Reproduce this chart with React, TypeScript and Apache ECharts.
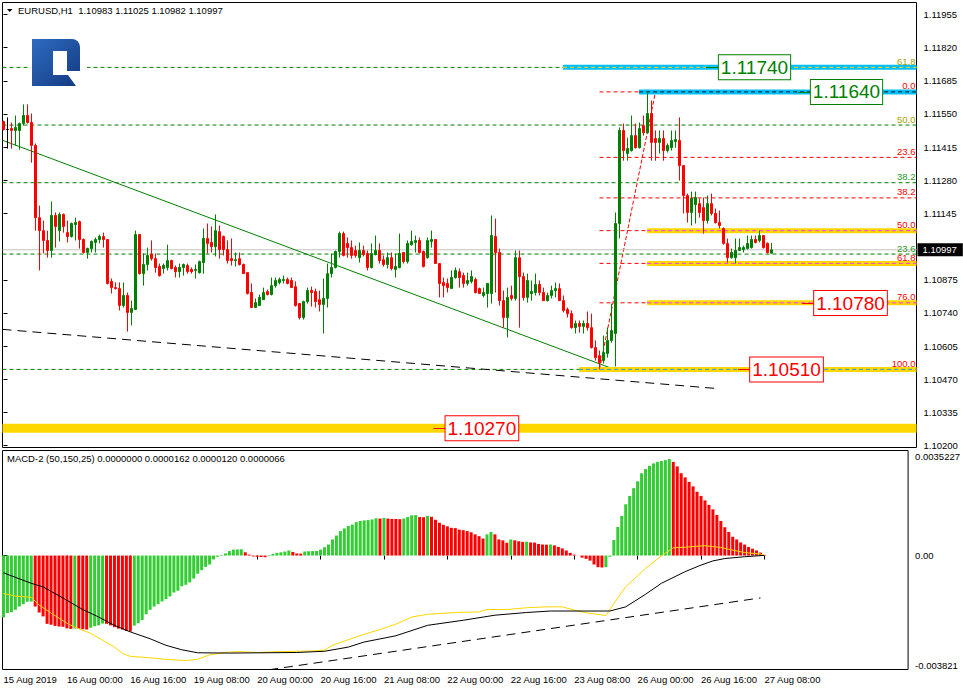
import React, { useEffect, useRef } from "react";
import * as echarts from "echarts";

const FONT = '"Liberation Sans", Arial, Helvetica, sans-serif';

// ---------------- data ----------------
const symbolTitle = "EURUSD,H1";
const lastQuote = [1.10983, 1.11025, 1.10982, 1.10997];
const macdTitle = "MACD-2 (50,150,25)";
const macdBufferTexts = ["0.0000000", "0.0000162", "0.0000120", "0.0000066"];

const opens = [
  1.11519,1.11487,1.11491,1.11483,1.11483,1.11511,1.11544,1.11515,1.11422,1.11128,
  1.11075,1.11035,1.10994,1.11137,1.11075,1.11141,1.11067,1.11051,1.11100,1.11112,
  1.11039,1.10986,1.11002,1.11027,1.11039,1.11051,1.11039,1.10868,1.10843,1.10839,
  1.10770,1.10811,1.10742,1.10754,1.11059,1.10900,1.10937,1.10978,1.10961,1.10929,
  1.10921,1.10925,1.10953,1.10925,1.10908,1.10925,1.10933,1.10917,1.10913,1.10904,
  1.10945,1.11043,1.11027,1.11010,1.11071,1.11051,1.10998,1.10961,1.10953,1.10961,
  1.10937,1.10904,1.10823,1.10762,1.10770,1.10794,1.10827,1.10815,1.10851,1.10864,
  1.10872,1.10876,1.10872,1.10847,1.10778,1.10721,1.10786,1.10831,1.10827,1.10794,
  1.10774,1.10799,1.10900,1.10925,1.10990,1.11063,1.11023,1.11006,1.10994,1.10965,
  1.10994,1.10982,1.10925,1.10978,1.10994,1.10957,1.10937,1.10965,1.10917,1.10925,
  1.10986,1.10949,1.11018,1.11027,1.11035,1.10990,1.10965,1.11031,1.11039,1.10941,
  1.10864,1.10860,1.10839,1.10884,1.10908,1.10892,1.10860,1.10868,1.10876,1.10839,
  1.10811,1.10819,1.10819,1.11051,1.10986,1.10790,1.10721,1.10811,1.10799,1.10965,
  1.10888,1.10803,1.10819,1.10823,1.10856,1.10823,1.10790,1.10811,1.10831,1.10839,
  1.10790,1.10754,1.10737,1.10680,1.10697,1.10685,1.10697,1.10680,1.10599,1.10566,
  1.10546,1.10575,1.10628,1.10656,1.11104,1.11483,1.11389,1.11401,1.11462,1.11413,
  1.11503,1.11474,1.11552,1.11450,1.11434,1.11450,1.11401,1.11413,1.11438,1.11442,
  1.11340,1.11218,1.11149,1.11181,1.11185,1.11169,1.11116,1.11185,1.11145,1.11108,
  1.11084,1.11023,1.10965,1.10965,1.10994,1.10998,1.11002,1.11006,1.11039,1.11035,
  1.11055,1.11023,1.10983,
];
const highs = [
  1.11523,1.11536,1.11515,1.11544,1.11515,1.11589,1.11589,1.11552,1.11430,1.11177,
  1.11116,1.11075,1.11194,1.11149,1.11149,1.11145,1.11116,1.11108,1.11128,1.11116,
  1.11043,1.11006,1.11035,1.11047,1.11059,1.11067,1.11039,1.10880,1.10864,1.10864,
  1.10864,1.10823,1.10790,1.11075,1.11059,1.10982,1.11006,1.11035,1.10982,1.10941,
  1.10941,1.11018,1.10957,1.10933,1.10941,1.10941,1.10941,1.10925,1.10937,1.10953,
  1.11084,1.11104,1.11092,1.11141,1.11096,1.11055,1.11035,1.11043,1.10986,1.10986,
  1.10941,1.10904,1.10860,1.10799,1.10815,1.10843,1.10835,1.10884,1.10884,1.10884,
  1.10892,1.10884,1.10884,1.10868,1.10778,1.10790,1.10843,1.10847,1.10839,1.10831,
  1.10880,1.10941,1.10982,1.10994,1.11071,1.11071,1.11047,1.11035,1.11014,1.11027,
  1.11014,1.10994,1.11023,1.11055,1.11023,1.10974,1.10986,1.10986,1.10982,1.11063,
  1.10986,1.11035,1.11075,1.11055,1.11047,1.10994,1.11047,1.11075,1.11039,1.10941,
  1.10884,1.10880,1.10913,1.10925,1.10921,1.10904,1.10904,1.10913,1.10884,1.10843,
  1.10843,1.10860,1.11137,1.11124,1.11002,1.10831,1.10843,1.10851,1.10994,1.10994,
  1.10904,1.10900,1.10872,1.10900,1.10872,1.10843,1.10823,1.10851,1.10864,1.10860,
  1.10811,1.10762,1.10750,1.10709,1.10709,1.10709,1.10746,1.10737,1.10628,1.10587,
  1.10648,1.10680,1.10778,1.11149,1.11495,1.11511,1.11454,1.11544,1.11511,1.11515,
  1.11544,1.11640,1.11605,1.11483,1.11483,1.11483,1.11430,1.11483,1.11483,1.11536,
  1.11340,1.11226,1.11234,1.11234,1.11206,1.11210,1.11218,1.11226,1.11165,1.11157,
  1.11088,1.11043,1.11002,1.11043,1.11043,1.11014,1.11055,1.11055,1.11055,1.11075,
  1.11055,1.11027,1.11025,
];
const lows = [
  1.11483,1.11409,1.11409,1.11422,1.11405,1.11503,1.11511,1.11352,1.11075,1.10913,
  1.10982,1.10965,1.10965,1.11006,1.11031,1.11067,1.11027,1.11047,1.11035,1.11002,
  1.10982,1.10961,1.10986,1.10986,1.11023,1.11006,1.10856,1.10819,1.10835,1.10750,
  1.10762,1.10664,1.10689,1.10754,1.10896,1.10851,1.10913,1.10953,1.10904,1.10888,
  1.10900,1.10913,1.10917,1.10884,1.10884,1.10892,1.10900,1.10900,1.10880,1.10900,
  1.10900,1.10982,1.10986,1.10970,1.10961,1.10974,1.10941,1.10933,1.10929,1.10933,
  1.10900,1.10815,1.10762,1.10762,1.10770,1.10794,1.10811,1.10811,1.10843,1.10856,
  1.10860,1.10856,1.10843,1.10766,1.10713,1.10713,1.10778,1.10766,1.10762,1.10746,
  1.10656,1.10762,1.10884,1.10921,1.10965,1.10970,1.10965,1.10961,1.10965,1.10945,
  1.10970,1.10913,1.10921,1.10974,1.10941,1.10929,1.10921,1.10913,1.10884,1.10921,
  1.10941,1.10941,1.11014,1.10986,1.10982,1.10925,1.10961,1.11006,1.10941,1.10803,
  1.10803,1.10823,1.10839,1.10880,1.10843,1.10843,1.10851,1.10860,1.10819,1.10819,
  1.10803,1.10762,1.10778,1.10823,1.10770,1.10680,1.10640,1.10790,1.10790,1.10680,
  1.10790,1.10782,1.10790,1.10811,1.10811,1.10790,1.10786,1.10799,1.10803,1.10790,
  1.10742,1.10721,1.10676,1.10656,1.10660,1.10656,1.10668,1.10595,1.10546,1.10510,
  1.10534,1.10558,1.10619,1.10522,1.11043,1.11360,1.11360,1.11397,1.11409,1.11409,
  1.11462,1.11470,1.11360,1.11360,1.11389,1.11360,1.11393,1.11401,1.11413,1.11279,
  1.11145,1.11108,1.11096,1.11104,1.11128,1.11063,1.11104,1.11137,1.11104,1.11084,
  1.11018,1.10945,1.10961,1.10941,1.10994,1.10986,1.10998,1.11002,1.11023,1.11027,
  1.11002,1.10982,1.10982,
];
const closes = [
  1.11487,1.11487,1.11483,1.11495,1.11511,1.11544,1.11515,1.11422,1.11128,1.11075,
  1.11035,1.10994,1.11137,1.11092,1.11141,1.11092,1.11051,1.11104,1.11108,1.11039,
  1.10986,1.11002,1.11031,1.11039,1.11051,1.11039,1.10860,1.10843,1.10839,1.10770,
  1.10811,1.10742,1.10758,1.11059,1.10900,1.10937,1.10974,1.10961,1.10925,1.10892,
  1.10933,1.10953,1.10921,1.10908,1.10925,1.10937,1.10908,1.10908,1.10917,1.10949,
  1.11043,1.11023,1.11010,1.11075,1.10998,1.10998,1.10953,1.10953,1.10957,1.10937,
  1.10900,1.10819,1.10762,1.10782,1.10803,1.10823,1.10815,1.10851,1.10872,1.10876,
  1.10876,1.10860,1.10843,1.10770,1.10721,1.10786,1.10831,1.10823,1.10786,1.10774,
  1.10799,1.10900,1.10925,1.10990,1.11063,1.10974,1.11006,1.10974,1.10974,1.10994,
  1.10978,1.10925,1.10982,1.10994,1.10953,1.10937,1.10965,1.10921,1.10929,1.10982,
  1.10949,1.11023,1.11031,1.11035,1.10986,1.10929,1.11035,1.11039,1.10941,1.10860,
  1.10851,1.10843,1.10884,1.10913,1.10884,1.10860,1.10872,1.10888,1.10823,1.10819,
  1.10823,1.10860,1.11055,1.10986,1.10790,1.10721,1.10803,1.10799,1.10965,1.10888,
  1.10803,1.10872,1.10827,1.10856,1.10823,1.10790,1.10811,1.10831,1.10839,1.10790,
  1.10750,1.10737,1.10680,1.10697,1.10685,1.10697,1.10680,1.10599,1.10558,1.10538,
  1.10579,1.10628,1.10668,1.11104,1.11483,1.11401,1.11409,1.11462,1.11413,1.11491,
  1.11474,1.11552,1.11434,1.11434,1.11450,1.11401,1.11422,1.11442,1.11446,1.11340,
  1.11218,1.11149,1.11206,1.11210,1.11149,1.11116,1.11185,1.11145,1.11108,1.11096,
  1.11023,1.10965,1.10986,1.10994,1.11006,1.11006,1.11023,1.11039,1.11027,1.11055,
  1.11006,1.10986,1.10997,
];

const timeTickBars = [0, 16, 32, 48, 64, 80, 96, 112, 128, 144, 160, 176, 192];
const timeTickLabels = [
  "15 Aug 2019", "16 Aug 00:00", "16 Aug 16:00", "19 Aug 08:00", "20 Aug 00:00",
  "20 Aug 16:00", "21 Aug 08:00", "22 Aug 00:00", "22 Aug 16:00", "23 Aug 08:00",
  "26 Aug 00:00", "26 Aug 16:00", "27 Aug 08:00",
];
const priceTicks = [1.11955, 1.1182, 1.11685, 1.1155, 1.11415, 1.1128, 1.11145, 1.10875, 1.1074, 1.10605, 1.1047, 1.10335, 1.102];
const macdTicks = [0.0035227, 0, -0.003821];
const macdTickLabels = ["0.0035227", "0.00", "-0.003821"];

const macdHist = [
  -208e-5,-193e-5,-190e-5,-182e-5,-171e-5,-163e-5,-155e-5,-154e-5,-171e-5,-191e-5,
  -204e-5,-229e-5,-232e-5,-236e-5,-238e-5,-239e-5,-244e-5,-246e-5,-245e-5,-246e-5,
  -247e-5,-248e-5,-242e-5,-237e-5,-234e-5,-228e-5,-229e-5,-234e-5,-240e-5,-245e-5,
  -248e-5,-253e-5,-255e-5,-235e-5,-227e-5,-216e-5,-197e-5,-182e-5,-171e-5,-163e-5,
  -154e-5,-146e-5,-137e-5,-124e-5,-118e-5,-103e-5,-98e-5,-90e-5,-77e-5,-61e-5,
  -49e-5,-38e-5,-30e-5,-13e-5,-4e-5,2e-5,7e-5,15e-5,20e-5,20.5e-5,
  21e-5,11e-5,3e-5,-3e-5,-4e-5,-5e-5,-5.5e-5,2e-5,5.5e-5,9e-5,
  11e-5,13.5e-5,17e-5,12e-5,7e-5,6.5e-5,13.5e-5,14.5e-5,15e-5,15.5e-5,
  20e-5,28e-5,37e-5,54e-5,67e-5,82e-5,91e-5,99e-5,104e-5,112e-5,
  116e-5,118e-5,119e-5,121e-5,125e-5,124e-5,126e-5,124e-5,123e-5,122.5e-5,
  122e-5,124e-5,129e-5,135e-5,135.5e-5,129e-5,128.5e-5,133e-5,130e-5,120e-5,
  110e-5,103e-5,98e-5,93e-5,92e-5,87e-5,85e-5,82e-5,78e-5,71e-5,
  65e-5,57e-5,71e-5,79e-5,71e-5,54e-5,51e-5,43e-5,54e-5,51e-5,
  48e-5,46e-5,46.5e-5,44e-5,43.5e-5,39e-5,37e-5,36.5e-5,37e-5,34e-5,
  29e-5,24e-5,17e-5,9e-5,3e-5,0.5e-5,-7e-5,-11e-5,-17e-5,-30e-5,
  -39e-5,-40e-5,-39e-5,-4e-5,52e-5,96e-5,133e-5,172e-5,200e-5,226e-5,
  249e-5,276e-5,290e-5,301e-5,309e-5,314e-5,317e-5,320e-5,324e-5,314e-5,
  299e-5,276e-5,262e-5,247e-5,232e-5,214e-5,200e-5,185e-5,170e-5,155e-5,
  136e-5,116e-5,95e-5,79e-5,63e-5,54e-5,44e-5,37e-5,29e-5,23e-5,
  17e-5,10e-5,1.62e-5,
];
const macdSignal = [
  [0,-127e-5],[3,-136e-5],[7,-140e-5],[9,-166e-5],[12,-193e-5],[16,-227e-5],[18,-240e-5],
  [22,-261e-5],[25,-284e-5],[28,-307e-5],[30,-328e-5],[32,-338e-5],[37,-343e-5],[41,-348e-5],
  [46,-352e-5],[49,-348e-5],[52,-333e-5],[56,-325e-5],[59,-322e-5],[64,-325e-5],[70,-322e-5],
  [78,-320e-5],[81,-317e-5],[83,-301e-5],[87,-282e-5],[91,-264e-5],[95,-248e-5],[99,-230e-5],
  [103,-206e-5],[107,-197e-5],[114,-191e-5],[120,-189e-5],[122,-181e-5],[127,-181e-5],
  [132,-175e-5],[137,-172e-5],[141,-172e-5],[144,-183e-5],[147,-192e-5],[152,-201e-5],
  [154,-161e-5],[157,-105e-5],[162,-43e-5],[166,-1e-5],[169,26e-5],[172,28e-5],[177,33e-5],
  [181,27e-5],[183,21e-5],[187,10e-5],[191,5e-5],[192,1.2e-5],
];
const macdMain = [
  [0,-58e-5],[7,-93e-5],[10,-105e-5],[16,-150e-5],[20,-181e-5],[24,-206e-5],[28,-234e-5],
  [32,-256e-5],[37,-279e-5],[41,-301e-5],[45,-316e-5],[49,-326e-5],[57,-327e-5],[66,-326e-5],
  [74,-325e-5],[81,-321e-5],[87,-307e-5],[91,-290e-5],[99,-269e-5],[107,-234e-5],[116,-217e-5],
  [124,-200e-5],[132,-191e-5],[138,-186e-5],[153,-186e-5],[157,-172e-5],[162,-130e-5],
  [166,-93e-5],[172,-54e-5],[176,-32e-5],[179,-18e-5],[182,-10e-5],[187,-4e-5],[192,0.66e-5],
];
const macdTrend = [[67, -383e-5], [191, -142e-5]];

const trendGreen = [[-0.25, 1.11443], [152.4, 1.10512]];
const trendBlack = [[-0.25, 1.10673], [178.4, 1.10432]];

const redFibLevels = [0, 23.6, 38.2, 50, 61.8, 76, 100];
const redFibAnchors = [[149, 1.1051], [163, 1.1164]];
const greenFibLevels = [0, 23.6, 38.2, 50, 61.8];
const greenFibLabelLevels = [61.8, 50, 38.2, 23.6];
const greenFibRange = [1.1051, 1.125];

const boxPrices = [1.1174, 1.1164, 1.1078, 1.1051, 1.1027];
const bidPrice = 1.10997;

// ---------------- layout / style ----------------
const X_MIN = -0.25;
const X_MAX = 228.25;
const PRICE_MIN = 1.10192;
const PRICE_MAX = 1.12004;
const GREEN = "#008000";
const RED = "#FF0000";
const GOLD = "#FFD700";
const BLUE = "#00BFFF";
const boxBars = [187.75, 210.75, 211.75, 195.75, 119.6];
const boxColors = [GREEN, GREEN, RED, RED, RED];
const BOX_HALF = 36.5;
const BOX_LEADER = 12;

// logo outline (relative to its top-left corner)
const LOGO_POINTS = [
  [0, 0], [40, 0], [43.1, 0.6], [45.7, 2.3], [47.4, 4.9], [48, 8], [48, 32], [35, 32],
  [35, 12], [21, 12], [21, 36], [36, 36], [44, 47], [0, 47],
];

const redFibPrice = (L: number) => redFibAnchors[1][1] - (redFibAnchors[1][1] - redFibAnchors[0][1]) * L / 100;
const greenFibPrice = (L: number) => greenFibRange[0] + (greenFibRange[1] - greenFibRange[0]) * L / 100;

function lineSeries(points: number[][], color: string, width: number, type: any, z = 1, grid = 0) {
  return {
    type: "line",
    xAxisIndex: grid,
    yAxisIndex: grid,
    data: points,
    symbol: "none",
    silent: true,
    z,
    lineStyle: { color, width, type, cap: "butt" },
    emphasis: { disabled: true },
  };
}

function buildOption() {
  const series: any[] = [];

  greenFibLevels.forEach((L) => {
    const p = greenFibPrice(L);
    series.push(lineSeries([[X_MIN, p], [X_MAX, p]], GREEN, 1, [4, 3]));
  });
  redFibLevels.forEach((L) => {
    const p = redFibPrice(L);
    series.push(lineSeries([[redFibAnchors[0][0], p], [X_MAX, p]], RED, 1, [4, 3]));
  });
  series.push(lineSeries(redFibAnchors, RED, 1, [4, 2]));

  series.push(lineSeries([[X_MIN, bidPrice], [X_MAX, bidPrice]], "#C0C0C0", 1, "solid"));
  series.push(lineSeries(trendGreen, GREEN, 1, "solid"));
  series.push(lineSeries(trendBlack, "#000000", 1, [9, 6]));

  const bands = [
    { price: boxPrices[0], from: 139.9, color: BLUE, width: 5, dash: GOLD },
    { price: boxPrices[1], from: 158.9, color: BLUE, width: 5, dash: "#1a1a1a" },
    { price: redFibPrice(50), from: 160.9, color: GOLD, width: 5, dash: "#FF33FF" },
    { price: redFibPrice(61.8), from: 160.9, color: GOLD, width: 5, dash: "#FF33FF" },
    { price: redFibPrice(76), from: 160.9, color: GOLD, width: 5, dash: "#FF33FF" },
    { price: boxPrices[3], from: 143.9, color: GOLD, width: 5, dash: "#1E9BE0" },
    { price: boxPrices[4], from: X_MIN, color: GOLD, width: 9, dash: null as any },
  ];
  bands.forEach((b) => series.push(lineSeries([[b.from, b.price], [X_MAX, b.price]], b.color, b.width, "solid")));
  bands.forEach((b) => {
    if (b.dash) series.push(lineSeries([[b.from, b.price], [X_MAX, b.price]], b.dash, 1, [4, 3]));
  });

  series.push({
    type: "candlestick",
    xAxisIndex: 0,
    yAxisIndex: 0,
    data: opens.map((o, i) => [i, o, closes[i], lows[i], highs[i]]),
    encode: { x: 0, y: [1, 2, 3, 4] },
    barWidth: 2,
    silent: true,
    z: 3,
    itemStyle: {
      color: GREEN,
      color0: RED,
      borderColor: GREEN,
      borderColor0: RED,
      borderColorDoji: "#000000",
      borderWidth: 1,
    },
  });

  const fibLabels: { price: number; text: string; color: string }[] = [];
  greenFibLabelLevels.forEach((L) =>
    fibLabels.push({ price: greenFibPrice(L), text: L.toFixed(1), color: L >= 50 ? "#A3A300" : "#1F9A1F" })
  );
  redFibLevels.forEach((L) => fibLabels.push({ price: redFibPrice(L), text: L.toFixed(1), color: RED }));
  series.push({
    type: "custom",
    xAxisIndex: 0,
    yAxisIndex: 0,
    silent: true,
    z: 5,
    data: fibLabels.map((f) => [X_MAX, f.price]),
    encode: { x: 0, y: 1 },
    renderItem: (params: any, api: any) => {
      const f = fibLabels[params.dataIndex];
      const pt = api.coord([api.value(0), api.value(1)]);
      return {
        type: "text",
        x: pt[0] - 1,
        y: pt[1] - 1,
        style: { text: f.text, fill: f.color, fontSize: 9.5, fontFamily: FONT, align: "right", verticalAlign: "bottom" },
      };
    },
  });

  series.push({
    type: "custom",
    xAxisIndex: 0,
    yAxisIndex: 0,
    silent: true,
    z: 6,
    data: boxPrices.map((p, i) => [boxBars[i], p]),
    encode: { x: 0, y: 1 },
    renderItem: (params: any, api: any) => {
      const i = params.dataIndex;
      const pt = api.coord([api.value(0), api.value(1)]);
      const c = boxColors[i];
      return {
        type: "group",
        children: [
          {
            type: "line",
            shape: { x1: pt[0] - BOX_HALF - BOX_LEADER, y1: Math.round(pt[1]) + 0.5, x2: pt[0] - BOX_HALF, y2: Math.round(pt[1]) + 0.5 },
            style: { stroke: c, lineWidth: 1 },
          },
          {
            type: "text",
            x: pt[0],
            y: pt[1],
            style: {
              text: boxPrices[i].toFixed(5),
              fill: c,
              fontSize: 19,
              fontFamily: FONT,
              align: "center",
              verticalAlign: "middle",
              backgroundColor: "#ffffff",
              borderColor: c,
              borderWidth: 1,
              padding: [3, 2, 2, 2],
            },
          },
        ],
      };
    },
  });

  series.push({
    type: "custom",
    xAxisIndex: 0,
    yAxisIndex: 0,
    silent: true,
    clip: false,
    z: 6,
    data: [[X_MAX, bidPrice]],
    encode: { x: 0, y: 1 },
    renderItem: (params: any, api: any) => {
      const pt = api.coord([api.value(0), api.value(1)]);
      return {
        type: "text",
        x: pt[0] + 1,
        y: pt[1],
        style: {
          text: bidPrice.toFixed(5),
          fill: "#ffffff",
          fontSize: 9.5,
          fontFamily: FONT,
          align: "left",
          verticalAlign: "middle",
          backgroundColor: "#000000",
          padding: [2, 6, 1, 5],
        },
      };
    },
  });

  series.push({
    type: "bar",
    xAxisIndex: 1,
    yAxisIndex: 1,
    barWidth: 3,
    silent: true,
    z: 2,
    data: macdHist.map((v, i) => ({
      value: [i, v],
      itemStyle: { color: i === 0 || v >= macdHist[i - 1] ? "#32CD32" : "#FF0000" },
    })),
  });
  series.push(lineSeries(macdSignal, GOLD, 1, "solid", 3, 1));
  series.push(lineSeries(macdMain, "#000000", 1, "solid", 3, 1));
  series.push(lineSeries(macdTrend, "#000000", 1, [9, 6], 3, 1));

  const macdIdx = (v: number) => {
    let best = 0;
    macdTicks.forEach((t, i) => {
      if (Math.abs(t - v) < Math.abs(macdTicks[best] - v)) best = i;
    });
    return best;
  };
  const labelBase = { fontSize: 9.5, fontFamily: FONT, color: "#000" };

  return {
    animation: false,
    backgroundColor: "#ffffff",
    textStyle: { fontFamily: FONT },
    grid: [
      { left: 2.5, top: 2.5, width: 914, height: 445, show: true, borderColor: "#000", borderWidth: 1, backgroundColor: "#fff" },
      { left: 2.5, top: 450.5, width: 914, height: 219, show: true, borderColor: "#000", borderWidth: 1, backgroundColor: "#fff" },
    ],
    xAxis: [
      { gridIndex: 0, type: "value", min: X_MIN, max: X_MAX, show: false },
      {
        gridIndex: 1,
        type: "value",
        min: X_MIN,
        max: X_MAX,
        splitLine: { show: false },
        axisLine: { show: false },
        axisTick: { show: true, customValues: timeTickBars, length: 4, lineStyle: { color: "#000", width: 1 } },
        axisLabel: {
          show: true,
          customValues: timeTickBars,
          formatter: (v: number) => timeTickLabels[timeTickBars.indexOf(Math.round(v))] ?? "",
          align: "left",
          margin: 5,
          ...labelBase,
        },
      },
    ],
    yAxis: [
      {
        gridIndex: 0,
        type: "value",
        position: "right",
        min: PRICE_MIN,
        max: PRICE_MAX,
        splitLine: { show: false },
        axisLine: { show: false },
        axisTick: { show: true, customValues: priceTicks, length: 4, lineStyle: { color: "#000", width: 1 } },
        axisLabel: { customValues: priceTicks, formatter: (v: number) => v.toFixed(5), margin: 7, ...labelBase },
      },
      {
        gridIndex: 1,
        type: "value",
        position: "right",
        min: macdTicks[2],
        max: macdTicks[0],
        splitLine: { show: false },
        axisLine: { show: false },
        axisTick: { show: true, customValues: macdTicks, length: 4, lineStyle: { color: "#000", width: 1 } },
        axisLabel: {
          customValues: macdTicks,
          margin: 7,
          ...labelBase,
          formatter: (v: number) => {
            const k = macdIdx(v);
            const key = k === 0 ? "t" : k === 2 ? "b" : "m";
            return `{${key}|${macdTickLabels[k]}}`;
          },
          rich: {
            t: { ...labelBase, padding: [12, 0, 0, 0] },
            m: { ...labelBase },
            b: { ...labelBase, padding: [0, 0, 8, 0] },
          },
        },
      },
    ],
    graphic: [
      { type: "polygon", shape: { points: [[7, 9], [12.5, 9], [9.75, 12]] }, style: { fill: "#000" }, z: 50 },
      {
        type: "text",
        x: 18,
        y: 10.5,
        z: 50,
        style: {
          text: `${symbolTitle}\u00a0 ${lastQuote.map((q) => q.toFixed(5)).join(" ")}`,
          fontSize: 9.5,
          fontFamily: FONT,
          fill: "#000",
          verticalAlign: "middle",
        },
      },
      { type: "rect", shape: { x: 28, y: 35, width: 59, height: 55 }, style: { fill: "#ffffff" }, z: 50 },
      {
        type: "polygon",
        x: 32,
        y: 39,
        z: 51,
        shape: { points: LOGO_POINTS },
        style: {
          fill: {
            type: "linear", x: 0, y: 0, x2: 1, y2: 1,
            colorStops: [{ offset: 0, color: "#2f6cc2" }, { offset: 1, color: "#12397f" }],
          },
        },
      },
      {
        type: "text",
        x: 7,
        y: 458.5,
        z: 50,
        style: {
          text: `${macdTitle} ${macdBufferTexts.join(" ")}`,
          fontSize: 9.5,
          fontFamily: FONT,
          fill: "#000",
          verticalAlign: "middle",
        },
      },
    ],
    series,
  };
}

export default function App() {
  const ref = useRef<HTMLDivElement>(null);
  useEffect(() => {
    document.body.style.margin = "0";
    const chart = echarts.init(ref.current as HTMLDivElement, null, { renderer: "svg", width: 963, height: 691 });
    chart.setOption(buildOption() as any);
    return () => chart.dispose();
  }, []);
  return (
    <div
      ref={ref}
      style={{ width: 963, height: 691, position: "absolute", left: 0, top: 0, background: "#fff" }}
    />
  );
}
